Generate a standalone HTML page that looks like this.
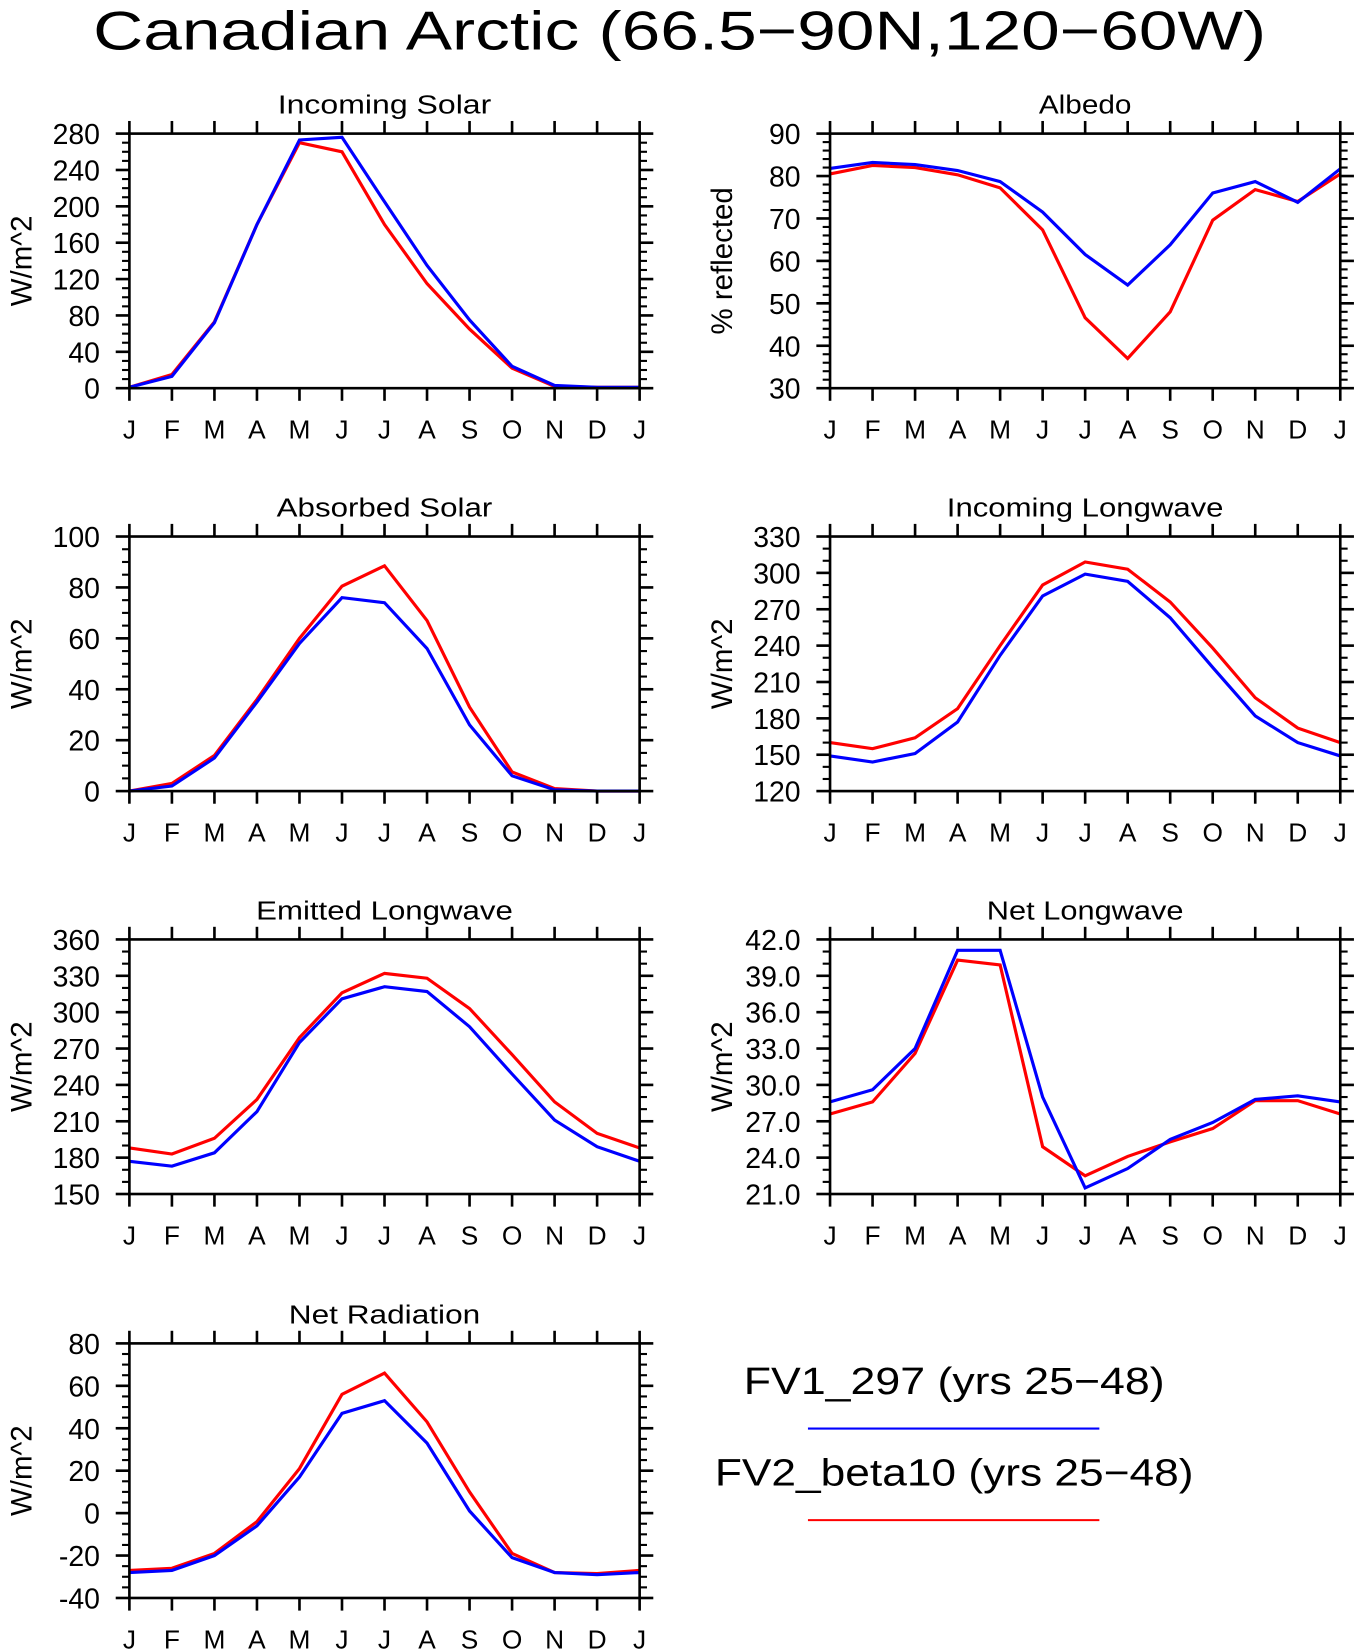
<!DOCTYPE html>
<html><head><meta charset="utf-8"><style>
html,body{margin:0;padding:0;background:#fff;}
svg{display:block;font-family:"Liberation Sans",sans-serif;}
</style></head><body>
<svg id="chart" width="1355" height="1651" viewBox="0 0 1288 1569.4" preserveAspectRatio="none" xmlns="http://www.w3.org/2000/svg">
<text x="646" y="47" font-size="52" text-anchor="middle" textLength="1115" lengthAdjust="spacingAndGlyphs">Canadian Arctic (66.5−90N,120−60W)</text>
<g id="panels"></g>
<g>
<text x="907" y="1325" font-size="36" text-anchor="middle" textLength="400" lengthAdjust="spacingAndGlyphs">FV1_297 (yrs 25−48)</text>
<line x1="768" y1="1358" x2="1045" y2="1358" stroke="#0000ff" stroke-width="2"/>
<text x="907" y="1412" font-size="36" text-anchor="middle" textLength="455" lengthAdjust="spacingAndGlyphs">FV2_beta10 (yrs 25−48)</text>
<line x1="768" y1="1445" x2="1045" y2="1445" stroke="#ff0000" stroke-width="2"/>
</g>
</svg>
<script>
const months = ["J","F","M","A","M","J","J","A","S","O","N","D","J"];
const incomingSolarFV1 = [1,13,72,180,273,276,205,135,75,24,3,1,1];
const incomingSolarFV2 = [1,15,73,180,270,260,180,115,65,22,2,1,1];
const albedoFV1 = [81.8,83.2,82.7,81.3,78.7,71.5,61.5,54.3,63.8,76,78.7,73.8,81.7];
const albedoFV2 = [80.5,82.5,82,80.3,77.2,67.3,46.6,37,48,69.6,76.8,74,80.5];
const absorbedSolarFV1 = [0,2,13,35,58,76,74,56,26,6,0.5,0,0];
const absorbedSolarFV2 = [0,3,14,36,60,80.5,88.5,67,33,7.5,1,0,0];
const incomingLWFV1 = [149,144,151,177,232,281,299,293,263,222,182,160,149];
const incomingLWFV2 = [160,155,164,188,240,290,309,303,276,238,197,172,160];
const emittedLWFV1 = [177,173,184,218,275,311,321,317,288,249,211,189,177];
const emittedLWFV2 = [188,183,196,228,279,316,332,328,303,265,226,200,188];
const netLWFV1 = [28.6,29.6,33,41.1,41.1,29,21.5,23.1,25.5,26.9,28.8,29.1,28.6];
const netLWFV2 = [27.6,28.6,32.6,40.3,39.9,24.9,22.5,24.1,25.3,26.4,28.7,28.7,27.6];
const netRadFV1 = [-28,-27,-20,-6,17,47,53,33,1,-21,-28,-29,-28];
const netRadFV2 = [-27,-26,-19,-4,21,56,66,43,10,-19,-28,-28.5,-27];
const ticksIncomingSolar = ["0","40","80","120","160","200","240","280"];
const ticksAlbedo = ["30","40","50","60","70","80","90"];
const ticksAbsorbed = ["0","20","40","60","80","100"];
const ticksIncomingLW = ["120","150","180","210","240","270","300","330"];
const ticksEmitted = ["150","180","210","240","270","300","330","360"];
const ticksNetLW = ["21.0","24.0","27.0","30.0","33.0","36.0","39.0","42.0"];
const ticksNetRad = ["-40","-20","0","20","40","60","80"];

const NS="http://www.w3.org/2000/svg";
const root=document.getElementById('panels');
function mk(tag,attrs,parent){const e=document.createElementNS(NS,tag);for(const k in attrs)e.setAttribute(k,attrs[k]);parent.appendChild(e);return e;}

function panel(name,title,titleW,x0,y0,ticks,minorPer,ylabel,s1,s2){
  const W=485,H=242,x1=x0+W,y1=y0+H;
  const g=mk('g',{},root);
  
  
  const tv=ticks.map(Number);const ymin=tv[0],ymax=tv[tv.length-1];
  const X=i=>x0+i*W/12;
  const Y=v=>y1-(v-ymin)/(ymax-ymin)*H;
  const t=mk('text',{x:(x0+x1)/2,y:y0-19,'font-size':25,'text-anchor':'middle',textLength:titleW,lengthAdjust:'spacingAndGlyphs'},g);
  t.textContent=title;
  
  
  const yl=mk('text',{x:0,y:0,'font-size':28,'text-anchor':'middle',transform:`translate(${x0-93},${(y0+y1)/2}) rotate(-90)`},g);
  yl.textContent=ylabel;
  
  
  [[s2,'#ff0000','fv2'],[s1,'#0000ff','fv1']].forEach(([s,c,n])=>{
    const p=mk('polyline',{points:s.map((v,i)=>X(i)+','+Y(v)).join(' '),fill:'none',stroke:c,'stroke-width':3,'stroke-linejoin':'miter'},g);
    
    
  });
  const ax=mk('g',{stroke:'#000','stroke-width':2.5},g);
  
  
  mk('rect',{x:x0,y:y0,width:W,height:H,fill:'none'},ax);
  months.forEach((m,i)=>{
    mk('line',{x1:X(i),y1:y0,x2:X(i),y2:y0-12},ax);
    mk('line',{x1:X(i),y1:y1,x2:X(i),y2:y1+12},ax);
    const lt=mk('text',{x:X(i),y:y1+48,'font-size':25,'text-anchor':'middle'},g);
    lt.textContent=m;
    
    
  });
  const step=tv[1]-tv[0];
  tv.forEach((v,k)=>{
    mk('line',{x1:x0-13,y1:Y(v),x2:x0,y2:Y(v)},ax);
    mk('line',{x1:x1,y1:Y(v),x2:x1+13,y2:Y(v)},ax);
    const lt=mk('text',{x:x0-28,y:Y(v)+10,'font-size':27,'text-anchor':'end'},g);
    lt.textContent=ticks[k];
    
    
    if(k<tv.length-1){for(let j=1;j<=minorPer;j++){const vv=v+step*j/(minorPer+1);
      mk('line',{x1:x0-7,y1:Y(vv),x2:x0,y2:Y(vv),'stroke-width':2},ax);
      mk('line',{x1:x1,y1:Y(vv),x2:x1+7,y2:Y(vv),'stroke-width':2},ax);}}
  });
}
panel('incoming-solar','Incoming Solar',203,123,127,ticksIncomingSolar,3,'W/m^2',incomingSolarFV1,incomingSolarFV2);
panel('albedo','Albedo',88,789,127,ticksAlbedo,4,'% reflected',albedoFV1,albedoFV2);
panel('absorbed-solar','Absorbed Solar',205,123,510,ticksAbsorbed,3,'W/m^2',absorbedSolarFV1,absorbedSolarFV2);
panel('incoming-longwave','Incoming Longwave',263,789,510,ticksIncomingLW,2,'W/m^2',incomingLWFV1,incomingLWFV2);
panel('emitted-longwave','Emitted Longwave',244,123,893,ticksEmitted,2,'W/m^2',emittedLWFV1,emittedLWFV2);
panel('net-longwave','Net Longwave',187,789,893,ticksNetLW,2,'W/m^2',netLWFV1,netLWFV2);
panel('net-radiation','Net Radiation',182,123,1277,ticksNetRad,3,'W/m^2',netRadFV1,netRadFV2);
</script>
</body></html>
